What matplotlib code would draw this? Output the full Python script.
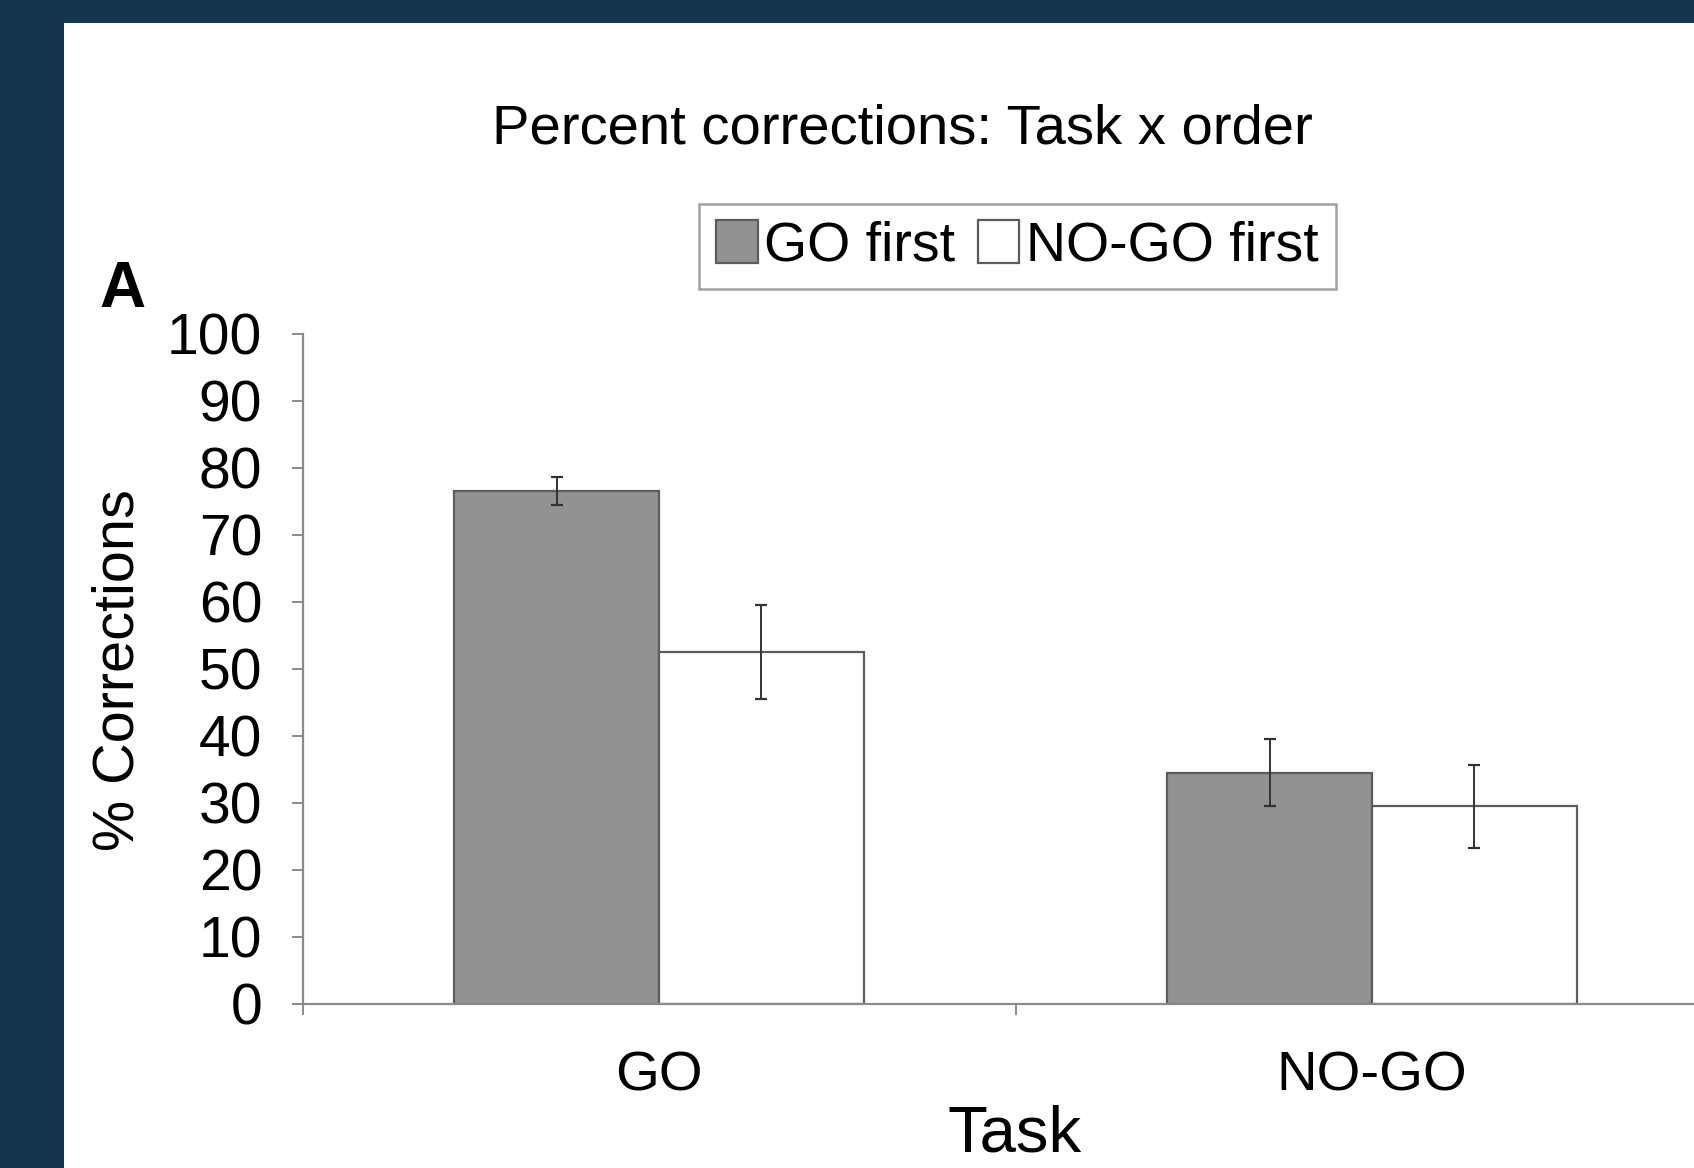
import matplotlib
matplotlib.use("Agg")
import matplotlib.pyplot as plt
from matplotlib.patches import Rectangle
import numpy as np

plt.rcParams['font.family'] = ['Liberation Sans', 'DejaVu Sans']

tasks = ["GO", "NO-GO"]
series = ["GO first", "NO-GO first"]
go_first = [76.5, 34.5]
go_first_err = [2.1, 5.0]
nogo_first = [52.5, 29.5]
nogo_first_err = [7.0, 6.2]
yticks = [0, 10, 20, 30, 40, 50, 60, 70, 80, 90, 100]

W, H = 1694, 1168
fig = plt.figure(figsize=(W / 100, H / 100), dpi=100)
fig.patch.set_facecolor("#15344e")
bg = Rectangle((64 / W, 0), 1, 1 - 23 / H, transform=fig.transFigure,
               facecolor="white", edgecolor="none", zorder=-10)
fig.patches.append(bg)

ax_left = 302.5 / W
ax_bottom = (H - 1003.7) / H
ax_top = (H - 333.8) / H
ax = fig.add_axes([ax_left, ax_bottom, 1 - ax_left, ax_top - ax_bottom], zorder=1)
ax.patch.set_alpha(0)

x = np.arange(len(tasks))
bw = 0.2875
edge = "#5c5c5c"
ax.bar(x - bw / 2, go_first, bw, color="#929292", edgecolor=edge, linewidth=1.6,
       label=series[0], zorder=2)
ax.bar(x + bw / 2, nogo_first, bw, color="white", edgecolor=edge, linewidth=1.6,
       label=series[1], zorder=2)
ax.errorbar(x - bw / 2, go_first, yerr=go_first_err, fmt="none", ecolor="#333333",
            elinewidth=1.4, capsize=4, capthick=1.6, zorder=3)
ax.errorbar(x + bw / 2, nogo_first, yerr=nogo_first_err, fmt="none", ecolor="#333333",
            elinewidth=1.4, capsize=4, capthick=1.6, zorder=3)

ax.set_yticks(yticks)
ax.set_yticklabels([str(v) for v in yticks])
ax.set_xticks(x)
ax.set_xticklabels(tasks)
ax.set_xticks([-0.5, 0.5, 1.5], minor=True)
ax.set_ylim(0, 100)
ax.set_xlim(-0.5, -0.5 + (W - 302.5) / 713.0)

for s in ["top", "right"]:
    ax.spines[s].set_visible(False)
for s in ["left", "bottom"]:
    ax.spines[s].set_color("#8a8a8a")
    ax.spines[s].set_linewidth(1.6)

ax.tick_params(axis="y", direction="out", length=8, width=1.4, color="#8a8a8a",
               labelsize=41, pad=21)
ax.tick_params(axis="x", which="major", length=0, labelsize=40.5, pad=34)
ax.tick_params(axis="x", which="minor", direction="out", length=8, width=1.4, color="#8a8a8a")

fig.text(902 / W, 1 - 130 / H, "Percent corrections: Task x order", ha="center",
         va="center", fontsize=40.5)
fig.text(122 / W, 1 - 290 / H, "A", ha="center", va="center", fontsize=46,
         fontweight="bold")
fig.text(118 / W, 1 - 670 / H, "% Corrections", ha="center", va="center",
         rotation=90, fontsize=41.5)
fig.text(1015 / W, 1 - 1135 / H, "Task", ha="center", va="center", fontsize=47)

leg = fig.legend(loc="center", bbox_to_anchor=(1017.5 / W, 1 - 246.5 / H), ncol=2,
                 fontsize=40, frameon=True, fancybox=False, handlelength=0.75,
                 handleheight=0.8, handletextpad=0.12, columnspacing=0.4,
                 borderpad=0.3, borderaxespad=0)
leg.get_frame().set_edgecolor("#8a8a8a")
leg.get_frame().set_linewidth(1.8)

fig.savefig("out.png", dpi=100, facecolor=fig.get_facecolor())
